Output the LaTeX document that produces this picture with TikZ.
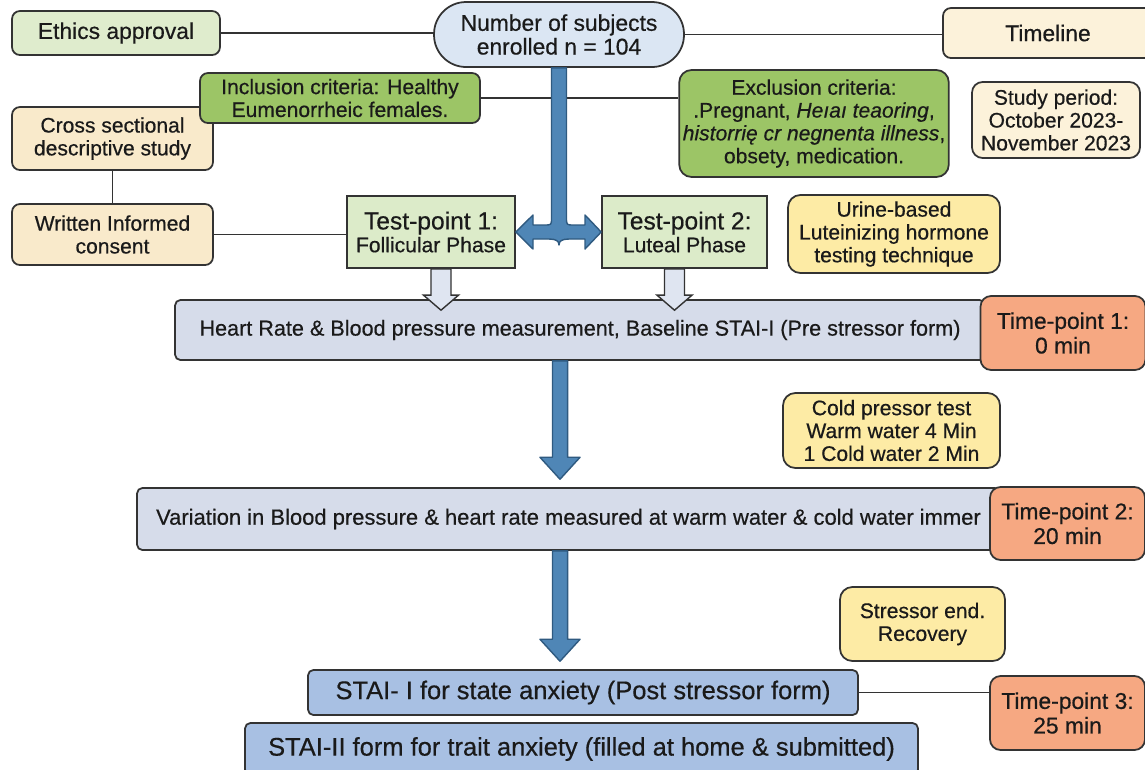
\documentclass[tikz,border=0pt]{standalone}
\usepackage{fontspec}
\setmainfont{Liberation Sans}[FakeBold=0.5]
\usetikzlibrary{calc}

\definecolor{ink}{HTML}{1A1A1A}
\definecolor{edgegray}{HTML}{333333}
\definecolor{palegreen}{HTML}{DFECCD}
\definecolor{leafgreen}{HTML}{9CC566}
\definecolor{phasegreen}{HTML}{DCEBC9}
\definecolor{skyblue}{HTML}{DBE6F3}
\definecolor{cream}{HTML}{FCF2DA}
\definecolor{beige}{HTML}{F9EACB}
\definecolor{lemon}{HTML}{FDEBA5}
\definecolor{slate}{HTML}{D6DCEA}
\definecolor{salmon}{HTML}{F6A882}
\definecolor{staiblue}{HTML}{A8C0E3}
\definecolor{pipeblue}{HTML}{4F86B6}
\definecolor{pipeedge}{HTML}{2F5A80}
\definecolor{hollowfill}{HTML}{DFE5F1}

% thick blue arrow pointing down, stops a little above the target
\newcommand{\pipedown}[2]{%
  \draw[pipe] let \p1=(#1), \p2=(#2) in
    (\x1-4.3pt,\y1) -- (\x1-4.3pt,\y2+17pt) -- (\x1-11.4pt,\y2+17pt) -- (\x1,\y2+4.5pt)
    -- (\x1+11.4pt,\y2+17pt) -- (\x1+4.3pt,\y2+17pt) -- (\x1+4.3pt,\y1) -- cycle;}
% pale outlined arrow, tip runs into the target box
\newcommand{\hollowdown}[2]{%
  \draw[hollow] let \p1=(#1), \p2=(#2) in
    (\x1-5.7pt,\y1) -- (\x1-5.7pt,\y2+2.3pt) -- (\x1-10pt,\y2+2.3pt) -- (\x1,\y2-6.3pt)
    -- (\x1+10pt,\y2+2.3pt) -- (\x1+5.7pt,\y2+2.3pt) -- (\x1+5.7pt,\y1) -- cycle;}

\begin{document}
\begin{tikzpicture}[x=0.02cm, y=-0.02cm, line width=1pt,
    box/.style={draw=edgegray, rounded corners=4.5pt, align=center, text=ink, inner sep=2pt,
      font=\fontsize{12}{13}\selectfont},
    big/.style={font=\fontsize{13}{13.5}\selectfont},
    phase/.style={box, rounded corners=0pt, fill=phasegreen},
    strip/.style={box, rounded corners=3pt, fill=slate},
    timebox/.style={box, fill=salmon, rounded corners=6pt, font=\fontsize{13}{14}\selectfont},
    link/.style={draw=edgegray, line width=1.1pt},
    pipe/.style={fill=pipeblue, draw=pipeedge, line width=0.8pt, line join=round},
    hollow/.style={fill=hollowfill, draw=edgegray, line width=0.8pt}]
    \clip (0,0) rectangle (1145,769);
    \fill[white] (0,0) rectangle (1145,769);

    % top row
    \node[box, big, fill=palegreen, minimum width=4.16cm, minimum height=0.88cm] (ethics) at (116,33) {Ethics approval};
    \node[box, big, fill=skyblue, rounded corners=0.64cm, minimum width=5.0cm, minimum height=1.3cm] (subjects) at (559,34.5)
      {Number of subjects\\enrolled n = 104};
    \node[box, big, fill=cream, minimum width=4.2cm, minimum height=1.0cm] (timeline) at (1048,33) {Timeline};

    % criteria and study design
    \node[box, fill=beige, minimum width=4.02cm, minimum height=1.26cm] (cross) at (112.5,138.5)
      {Cross sectional\\descriptive study};
    \node[box, fill=leafgreen, minimum width=5.6cm, minimum height=1.0cm] (inclusion) at (340,98)
      {Inclusion criteria: Healthy\\Eumenorrheic females.};
    \node[box, fill=leafgreen, rounded corners=7pt, minimum width=5.24cm, minimum height=2.14cm] (exclusion) at (814,123.5)
      {Exclusion criteria:\\.Pregnant, \textit{Heıaı teaoring},\\\textit{historrię cr negnenta illness},\\obsety, medication.};
    \node[box, fill=cream, rounded corners=6pt, minimum width=3.36cm, minimum height=1.52cm] (study) at (1056,120)
      {Study period:\\October 2023-\\November 2023};
    \node[box, fill=beige, minimum width=4.02cm, minimum height=1.22cm] (consent) at (112.5,234.5)
      {Written Informed\\consent};

    % test points
    \node[phase, minimum width=3.36cm, minimum height=1.44cm] (tp1) at (431,232)
      {{\fontsize{14}{16}\selectfont Test-point 1:}\\Follicular Phase};
    \node[phase, minimum width=3.3cm, minimum height=1.44cm] (tp2) at (684.5,232)
      {{\fontsize{14}{16}\selectfont Test-point 2:}\\Luteal Phase};
    \node[box, fill=lemon, rounded corners=7pt, minimum width=4.24cm, minimum height=1.56cm] (urine) at (894,234)
      {Urine-based\\Luteinizing hormone\\testing technique};

    % measurement steps
    \node[strip, minimum width=16.2cm, minimum height=1.2cm, font=\fontsize{12.3}{14}\selectfont] (heart) at (580,330)
      {Heart Rate \& Blood pressure measurement, Baseline STAI-I (Pre stressor form)};
    \node[timebox, minimum width=3.3cm, minimum height=1.48cm] (t1) at (1063,333) {Time-point 1:\\0 min};
    \node[box, fill=lemon, rounded corners=7pt, minimum width=4.34cm, minimum height=1.5cm] (cold) at (891.5,430.5)
      {Cold pressor test\\Warm water 4 Min\\1 Cold water 2 Min};
    \node[strip, minimum width=17.26cm, minimum height=1.24cm, font=\fontsize{12.5}{14}\selectfont] (variation) at (568.5,519)
      {Variation in Blood pressure \& heart rate measured at warm water \& cold water immer};
    \node[timebox, minimum width=3.1cm, minimum height=1.46cm] (t2) at (1067.5,523.5) {Time-point 2:\\20 min};
    \node[box, fill=lemon, rounded corners=7pt, minimum width=3.3cm, minimum height=1.48cm] (stressor) at (922.5,624)
      {Stressor end.\\Recovery};
    \node[box, fill=staiblue, rounded corners=3pt, minimum width=11.0cm, minimum height=0.9cm,
      font=\fontsize{14.5}{16}\selectfont] (stai1) at (583,692.5) {STAI- I for state anxiety (Post stressor form)};
    \node[timebox, minimum width=3.1cm, minimum height=1.48cm] (t3) at (1067.5,713) {Time-point 3:\\25 min};
    \node[box, fill=staiblue, rounded corners=3pt, minimum width=13.46cm, minimum height=1.04cm,
      font=\fontsize{14.5}{16}\selectfont] (stai2) at (581.5,749)
      {STAI-II form for trait anxiety (filled at home \& submitted)};

    % plain connectors
    \draw[link] (ethics.east) -- (ethics.east -| subjects.west);
    \draw[link] (subjects.east) -- (subjects.east -| timeline.west);
    \draw[link] (inclusion.east) -- (inclusion.east -| exclusion.west);
    \draw[link] (cross.south) -- (consent.north);
    \draw[link] (consent.east) -- (consent.east -| tp1.west);
    \draw[link] (stai1.east) -- (stai1.east -| t3.west);

    % fork from enrolment to both test points
    \coordinate (fork) at (subjects.south |- tp1.east);
    \draw[pipe] ([shift={(-7.5,0)}]subjects.south) -- ([shift={(-7.5,-14)}]fork)
      .. controls ([shift={(-7.5,-7)}]fork) .. ([shift={(-15,-7)}]fork)
      -- ([shift={(-26,-7)}]fork) -- ([shift={(-26,-17)}]fork) -- (tp1.east)
      -- ([shift={(-26,17)}]fork) -- ([shift={(-26,7)}]fork) -- ([shift={(-10,7)}]fork)
      .. controls ([shift={(-3,7)}]fork) and ([shift={(0,9)}]fork) .. ([shift={(0,13)}]fork)
      .. controls ([shift={(0,9)}]fork) and ([shift={(3,7)}]fork) .. ([shift={(10,7)}]fork)
      -- ([shift={(26,7)}]fork) -- ([shift={(26,17)}]fork) -- (tp2.west)
      -- ([shift={(26,-17)}]fork) -- ([shift={(26,-7)}]fork) -- ([shift={(15,-7)}]fork)
      .. controls ([shift={(7.5,-7)}]fork) .. ([shift={(7.5,-14)}]fork)
      -- ([shift={(7.5,0)}]subjects.south) -- cycle;

    \hollowdown{[xshift=0.2cm]tp1.south}{heart.north}
    \hollowdown{[xshift=-0.2cm]tp2.south}{heart.north}

    \coordinate (spine) at (560,0);
    \pipedown{heart.south -| spine}{variation.north -| spine}
    \pipedown{variation.south -| spine}{stai1.north -| spine}
\end{tikzpicture}
\end{document}
